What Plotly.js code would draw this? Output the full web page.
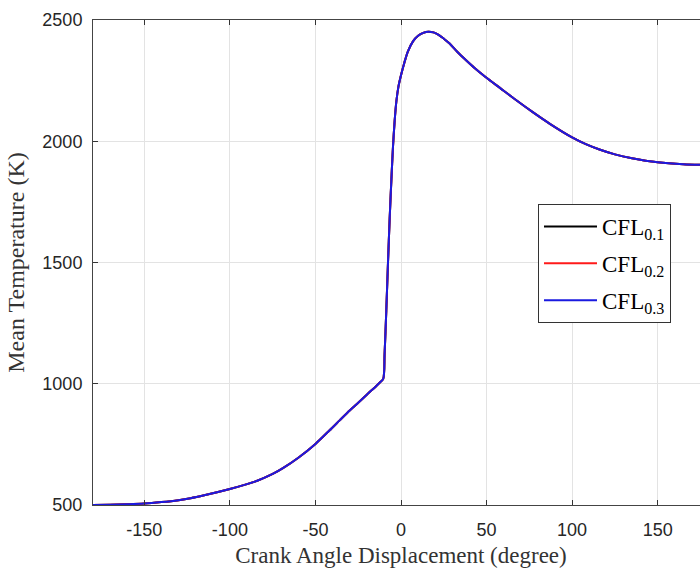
<!DOCTYPE html>
<html>
<head>
<meta charset="utf-8">
<script src="https://cdn.plot.ly/plotly-3.0.1.min.js"></script>
<style>
  html, body { margin: 0; padding: 0; overflow: hidden; background: #fff; }
  #chart { width: 720px; height: 568px; }
</style>
</head>
<body>
<div id="chart"></div>
<script>
// Crank angle (degree)
const crankAngle = [
  -180, -170, -160, -150, -140, -130, -123, -115, -100, -90, -84, -75, -69, -60,
  -50, -42, -36, -30, -25, -20, -15, -12.5, -10.4, -9.6, -8.6, -7.6, -6.6, -5.6,
  -4.7, -3.7, -2.7, -1.5, 0, 2, 4, 7, 10, 13, 16, 19, 22, 25, 28.4, 33, 38.2,
  43, 49.2, 58, 67, 77, 87, 100, 108, 116, 125, 135, 150, 165, 180
];
// Mean temperature (K) for each CFL number (curves overlap)
const meanTempCFL01 = [
  500, 501, 503, 506, 512, 520, 528, 540, 566, 586, 600, 628, 652, 695,
  752, 806, 848, 890, 922, 955, 987, 1004, 1020, 1120, 1300, 1500, 1685, 1845,
  1975, 2085, 2165, 2225, 2272, 2325, 2370, 2412, 2435, 2447, 2452, 2449, 2439, 2423, 2403, 2368, 2333,
  2302, 2266, 2219, 2171, 2120, 2072, 2016, 1988, 1966, 1946, 1930, 1913, 1905, 1902
];
const meanTempCFL02 = meanTempCFL01.slice();
const meanTempCFL03 = meanTempCFL01.slice();

const seriesNames = ['CFL<sub>0.1</sub>', 'CFL<sub>0.2</sub>', 'CFL<sub>0.3</sub>'];
const seriesColors = ['#000000', '#ff1a1a', '#1a1ae0'];
const seriesValues = [meanTempCFL01, meanTempCFL02, meanTempCFL03];

const xTickVals = [-150, -100, -50, 0, 50, 100, 150];
const xTickText = ['-150', '-100', '-50', '0', '50', '100', '150'];
const yTickVals = [500, 1000, 1500, 2000, 2500];
const yTickText = ['500', '1000', '1500', '2000', '2500'];

const traces = seriesValues.map((vals, i) => ({
  x: crankAngle,
  y: vals,
  type: 'scatter',
  mode: 'lines',
  name: seriesNames[i],
  legendgroup: 'g' + i,
  line: { color: seriesColors[i], width: 2, shape: 'spline', smoothing: 0.8 }
}));

const axisCommon = {
  showline: true,
  linecolor: '#444',
  linewidth: 1,
  mirror: 'ticks',
  ticks: 'inside',
  ticklen: 5,
  tickwidth: 1,
  tickcolor: '#333',
  showgrid: true,
  gridcolor: '#e3e3e3',
  gridwidth: 1,
  zeroline: false,
  tickfont: { family: 'Liberation Sans, Arial, sans-serif', size: 18, color: '#262626' }
};

const layout = {
  width: 720,
  height: 568,
  margin: { l: 93, r: 11, t: 20, b: 63 },
  paper_bgcolor: '#fff',
  plot_bgcolor: '#fff',
  showlegend: true,
  legend: {
    x: 0.7224, y: 0.6206, xanchor: 'left', yanchor: 'top',
    bgcolor: '#fff', bordercolor: '#333', borderwidth: 1,
    tracegroupgap: 4,
    itemwidth: 53,
    font: { family: 'Liberation Serif, Times New Roman, serif', size: 23, color: '#000' }
  },
  xaxis: Object.assign({}, axisCommon, {
    range: [-180, 180],
    tickvals: xTickVals,
    ticktext: xTickText,
    ticklabelstandoff: 8,
    title: { text: 'Crank Angle Displacement (degree)', standoff: 8,
      font: { family: 'Liberation Serif, Times New Roman, serif', size: 23, color: '#333' } }
  }),
  yaxis: Object.assign({}, axisCommon, {
    range: [500, 2500],
    tickvals: yTickVals,
    ticktext: yTickText,
    ticklabelstandoff: 6,
    title: { text: 'Mean Temperature (K)', standoff: 10,
      font: { family: 'Liberation Serif, Times New Roman, serif', size: 24, color: '#333' } }
  })
};

Plotly.newPlot('chart', traces, layout, { displayModeBar: false, staticPlot: true });
</script>
</body>
</html>
